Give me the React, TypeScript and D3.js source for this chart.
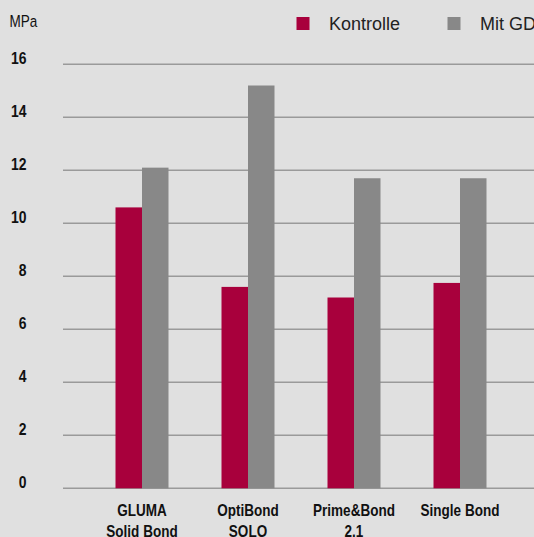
import React from "react";
import * as d3 from "d3";

const categories = ["GLUMA\nSolid Bond", "OptiBond\nSOLO", "Prime&Bond\n2.1", "Single Bond"];
const kontrolle = [10.6, 7.6, 7.2, 7.75];
const mitGD = [12.1, 15.2, 11.7, 11.7];
const yTicks = [0, 2, 4, 6, 8, 10, 12, 14, 16];
const seriesNames = ["Kontrolle", "Mit GD"];
const colors = ["#a8003c", "#888888"];

const W = 534;
const H = 537;
const ARIAL = "'Liberation Sans', Arial, sans-serif";
const NARROW_SCALE = 0.82;

function NarrowText(props: {
  x: number;
  y: number;
  anchor?: "start" | "middle" | "end";
  size: number;
  bold?: boolean;
  fill?: string;
  children: React.ReactNode;
}) {
  const { x, y, anchor = "start", size, bold, fill = "#111", children } = props;
  return (
    <g transform={`translate(${x},${y}) scale(${NARROW_SCALE},1)`}>
      <text x={0} y={0} textAnchor={anchor} fontFamily={ARIAL} fontWeight={bold ? "bold" : "normal"} fontSize={size} fill={fill}>
        {children}
      </text>
    </g>
  );
}

export default function App() {
  const x = d3.scaleBand<string>().domain(categories).range([89, 513]).paddingInner(0.5).paddingOuter(0.25);
  const y = d3.scaleLinear().domain([0, 16]).range([488.3, 64.3]);
  const bw = x.bandwidth() / 2;
  const series = [kontrolle, mitGD];

  return (
    <div style={{ position: "fixed", left: 0, top: 0, width: W, height: H, background: "#e0e0e0" }}>
      <svg width={W} height={H} style={{ display: "block" }}>
        <rect x={0} y={0} width={W} height={H} fill="#e0e0e0" />
        {yTicks.map((t) => (
          <g key={t}>
            <line x1={63} x2={W} y1={y(t)} y2={y(t)} stroke="#9a9a9a" strokeWidth={1.6} />
            <NarrowText x={26.5} y={y(t)} anchor="end" size={17} bold>
              {t}
            </NarrowText>
          </g>
        ))}
        {series.map((vals, si) =>
          vals.map((v, i) => (
            <rect
              key={si + "-" + i}
              x={(x(categories[i]) as number) + si * bw}
              y={y(v)}
              width={bw}
              height={y(0) - y(v)}
              fill={colors[si]}
            />
          ))
        )}
        {categories.map((c) => {
          const cx = (x(c) as number) + x.bandwidth() / 2;
          return (
            <g key={c}>
              {c.split("\n").map((line, li) => (
                <NarrowText key={li} x={cx} y={515.5 + li * 21.5} anchor="middle" size={16.5} bold>
                  {line}
                </NarrowText>
              ))}
            </g>
          );
        })}
        <NarrowText x={9.5} y={27.3} size={16.5}>MPa</NarrowText>
        {seriesNames.map((n, i) => {
          const lx = [296.5, 447.5][i];
          return (
            <g key={n}>
              <rect x={lx} y={17} width={13} height={13} fill={colors[i]} />
              <text x={lx + 32.5} y={30} fontFamily={ARIAL} fontSize={18} fill="#222">
                {n}
              </text>
            </g>
          );
        })}
      </svg>
    </div>
  );
}
